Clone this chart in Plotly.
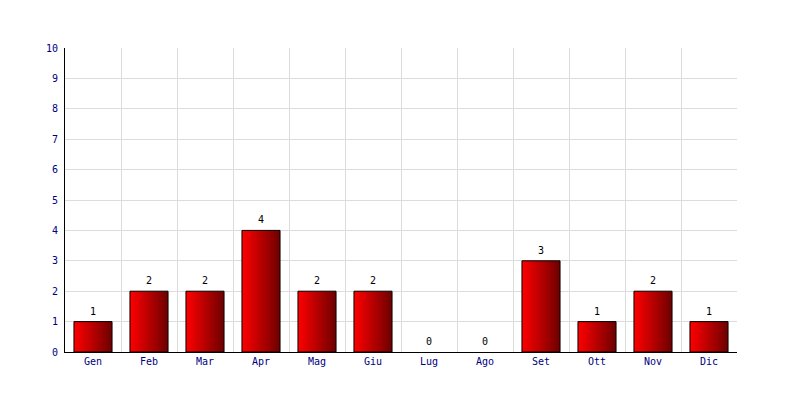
import plotly.graph_objects as go

months = ["Gen", "Feb", "Mar", "Apr", "Mag", "Giu", "Lug", "Ago", "Set", "Ott", "Nov", "Dic"]
values = [1, 2, 2, 4, 2, 2, 0, 0, 3, 1, 2, 1]
y_ticks = list(range(0, 11))

BAR_HALF = 0.34
FONT = "DejaVu Sans Mono"
NAVY = "#000080"

fig = go.Figure()
positions = list(range(len(months)))
for i, v in zip(positions, values):
    if v <= 0:
        continue
    fig.add_trace(go.Scatter(
        x=[i - BAR_HALF, i - BAR_HALF, i + BAR_HALF, i + BAR_HALF, i - BAR_HALF],
        y=[0, v, v, 0, 0],
        mode="lines",
        fill="toself",
        fillgradient=dict(type="horizontal",
                          colorscale=[[0, "#ff0000"], [1, "#6e0000"]]),
        line=dict(color="black", width=1),
        hoverinfo="skip",
        showlegend=False,
    ))

annotations = [
    dict(x=i, y=v, xref="x", yref="y", text=str(v), showarrow=False,
         yanchor="bottom", yshift=3,
         font=dict(family=FONT, size=10, color="black"))
    for i, v in zip(positions, values)
]

fig.update_layout(
    width=800, height=400,
    margin=dict(l=57, r=71, t=40, b=56),
    paper_bgcolor="white", plot_bgcolor="white",
    font=dict(family=FONT, size=10, color=NAVY),
    annotations=annotations,
    xaxis=dict(
        range=[-0.5, len(months) - 0.5],
        tickvals=positions, ticktext=months,
        showgrid=False, zeroline=False,
        showline=True, linecolor="black", linewidth=1,
        ticks="", tickfont=dict(family=FONT, size=10, color=NAVY),
        minor=dict(tickvals=[p - 0.5 for p in positions] + [len(months) - 0.5],
                   showgrid=True, gridcolor="#dcdcdc", gridwidth=1, ticks=""),
        fixedrange=True,
    ),
    yaxis=dict(
        range=[0, 10], tickvals=y_ticks,
        showgrid=True, gridcolor="#dcdcdc", gridwidth=1,
        zeroline=False, showline=True, linecolor="black", linewidth=1,
        ticks="", tickfont=dict(family=FONT, size=10, color=NAVY),
        ticklabelstandoff=4,
        fixedrange=True,
    ),
)

fig.write_html("out.html")
